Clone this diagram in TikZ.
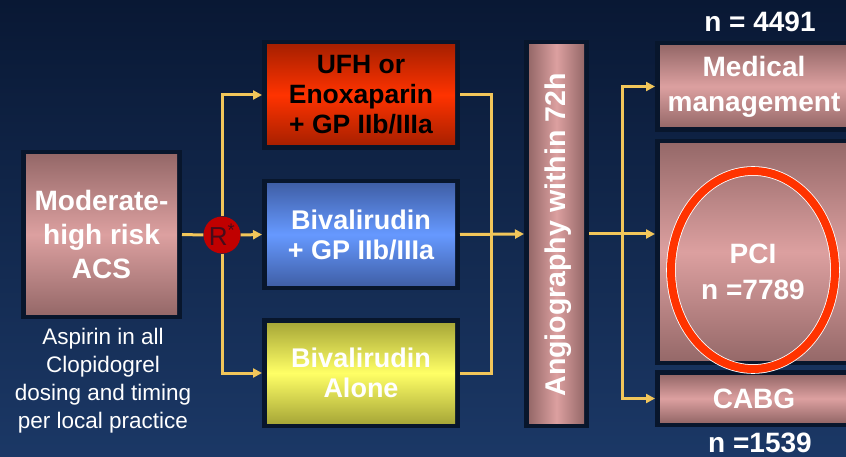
\documentclass[tikz,border=0pt]{standalone}
\usepackage{fontspec}
\setmainfont{Liberation Sans}
\usetikzlibrary{arrows.meta,shapes.geometric,calc}
\definecolor{bgtop}{RGB}{9,24,52}
\definecolor{bgbot}{RGB}{27,56,102}
\definecolor{framecol}{RGB}{8,22,44}
\definecolor{pinkdark}{RGB}{150,105,105}
\definecolor{pinklight}{RGB}{220,160,160}
\definecolor{reddark}{RGB}{168,32,0}
\definecolor{redlight}{RGB}{255,51,0}
\definecolor{bluedark}{RGB}{64,96,168}
\definecolor{bluelight}{RGB}{102,153,255}
\definecolor{yeldark}{RGB}{168,168,56}
\definecolor{yellight}{RGB}{255,255,102}
\definecolor{arrowcol}{RGB}{242,198,90}
\definecolor{ringcol}{RGB}{255,51,0}
\definecolor{rdot}{RGB}{192,0,0}
\definecolor{rtext}{RGB}{70,12,26}
\tikzset{
  box/.style={rectangle, inner sep=0pt, outer sep=5pt, align=center,
    preaction={draw=framecol, line width=10pt}, font=\bfseries},
  pinkv/.style={box, top color=pinkdark, bottom color=pinkdark, middle color=pinklight, text=white},
  pinkh/.style={box, left color=pinkdark, right color=pinkdark, middle color=pinklight, text=white},
  redbox/.style={box, top color=reddark, bottom color=reddark, middle color=redlight, text=black},
  bluebox/.style={box, top color=bluedark, bottom color=bluedark, middle color=bluelight, text=white},
  yelbox/.style={box, top color=yeldark, bottom color=yeldark, middle color=yellight, text=white},
  conn/.style={draw=arrowcol, line width=3pt},
  arr/.style={conn, -{Triangle[length=9pt,width=9pt]}},
  lbl/.style={text=white, font=\bfseries, align=center, inner sep=0pt},
}
\begin{document}
\begin{tikzpicture}[x=1pt,y=-1pt]
\useasboundingbox (0,0) rectangle (846,457);
\shade[top color=bgtop, bottom color=bgbot] (0,0) rectangle (846,457);

% left box
\node[pinkv, minimum width=151pt, minimum height=159pt,
  font=\bfseries\fontsize{28}{34}\selectfont] (acs) at (101.5,234.5) {Moderate-\\high risk\\ACS};
\node[text=white, align=center, inner sep=0pt, font=\fontsize{22.5}{28}\selectfont] (note) at (103,381)
  {Aspirin in all\\Clopidogrel\\dosing and timing\\per local practice};

% randomisation
\node[circle, fill=rdot, minimum size=37pt, inner sep=0pt, text=rtext,
  font=\fontsize{26}{26}\selectfont] (R) at (222,235) {R\textsuperscript{*}};

% treatment arms
\node[redbox, minimum width=188pt, minimum height=100pt,
  font=\bfseries\fontsize{26.5}{30}\selectfont] (ufh) at (361,95) {UFH or\\Enoxaparin\\+ GP IIb/IIIa};
\node[bluebox, minimum width=188pt, minimum height=101pt,
  font=\bfseries\fontsize{27}{30}\selectfont] (biv) at (361,234.5) {Bivalirudin\\+ GP IIb/IIIa};
\node[yelbox, minimum width=188pt, minimum height=100pt,
  font=\bfseries\fontsize{27}{30}\selectfont] (yel) at (361,373) {Bivalirudin\\Alone};

% angiography
\node[pinkh, minimum width=55pt, minimum height=378pt] (angio) at (556.5,234) {};
\node[lbl, rotate=90, font=\bfseries\fontsize{28.5}{30}\selectfont] (angiotxt) at (558,235) {Angiography within 72h};

% outcomes
\node[pinkv, minimum width=188pt, minimum height=81pt,
  font=\bfseries\fontsize{28}{35}\selectfont] (med) at (754,86.5) {Medical\\management};
\node[pinkv, minimum width=188pt, minimum height=216pt] (pci) at (754,252) {};
\node[pinkv, minimum width=188pt, minimum height=47pt,
  font=\bfseries\fontsize{28}{30}\selectfont] (cabg) at (754,398.5) {CABG};

\draw[white, line width=9.6pt] (753,270) ellipse [x radius=82pt, y radius=99pt];
\draw[ringcol, line width=8pt] (753,270) ellipse [x radius=82pt, y radius=99pt];
\node[lbl, font=\bfseries\fontsize{28}{36}\selectfont] (pcitxt) at (753,272) {PCI\\n =7789};

\node[lbl, font=\bfseries\fontsize{28}{30}\selectfont] (n1) at (760,22) {n = 4491};
\node[lbl, font=\bfseries\fontsize{28}{30}\selectfont] (n3) at (760,443) {n =1539};

% connectors
\draw[conn] (acs.east) -- (R.west);
\draw[arr] (R.east) -- (biv.west);
\draw[arr] (R.north) |- (ufh.west);
\draw[arr] (R.south) |- (yel.west);

\coordinate (j1) at (491,234.5);
\draw[conn] (ufh.east) -| (j1);
\draw[conn] (yel.east) -| (j1);
\draw[arr] (biv.east) -- (angio.west);

\coordinate (j2) at (622,234);
\draw[arr] (angio.east) -- (angio.east -| pci.west);
\draw[arr] (j2) |- (med.west);
\draw[arr] (j2) |- (cabg.west);
\end{tikzpicture}
\end{document}
